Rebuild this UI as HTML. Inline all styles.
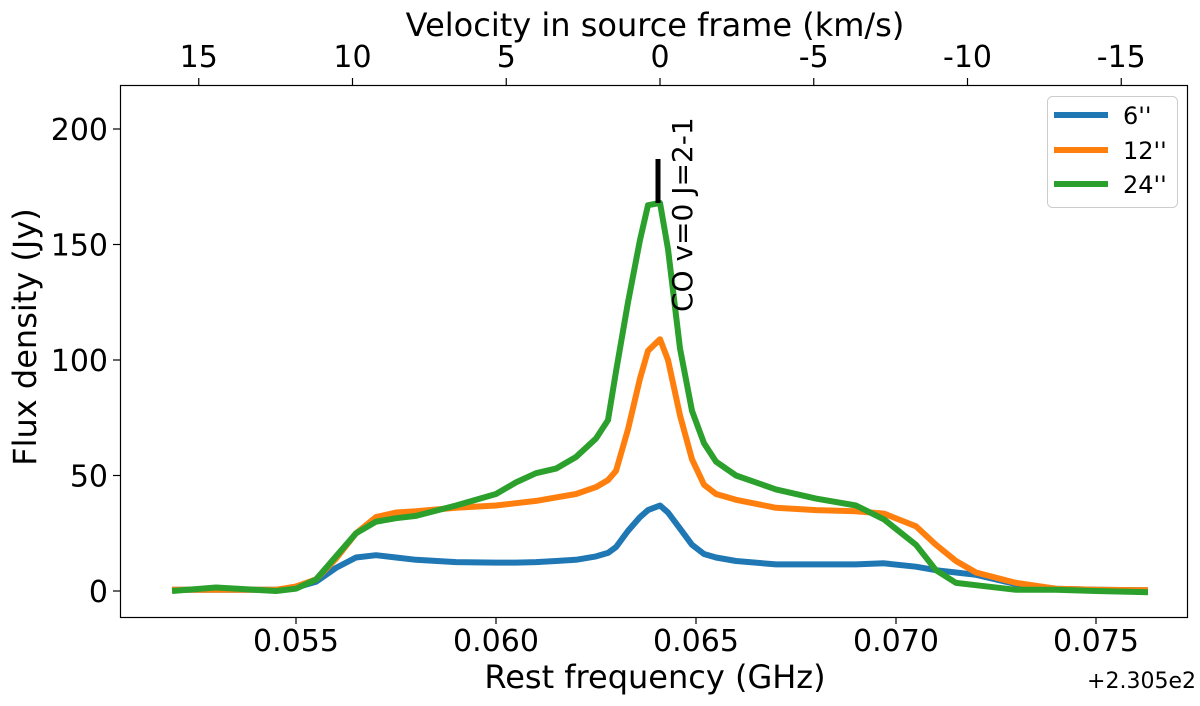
<!DOCTYPE html>
<html><head><meta charset="utf-8"><style>
html,body{margin:0;padding:0;background:#fff;}
svg{display:block;font-family:"DejaVu Sans","Liberation Sans",sans-serif;}
</style></head><body>
<svg id="chart" width="1200" height="706" viewBox="0 0 1200 706">
<rect x="0" y="0" width="1200" height="706" fill="#fff"/>
<g id="plot"></g>
<rect x="120.5" y="85.5" width="1067" height="532" fill="none" stroke="#000" stroke-width="1.2"/>
<g id="xticks"></g>
<g id="yticks"></g>
<g id="vticks"></g>
<text x="655" y="688" font-size="32" text-anchor="middle">Rest frequency (GHz)</text>
<text x="1196" y="688" font-size="22" text-anchor="end">+2.305e2</text>
<text x="655" y="36" font-size="32" text-anchor="middle">Velocity in source frame (km/s)</text>
<text transform="translate(36,337) rotate(-90)" font-size="32" text-anchor="middle">Flux density (Jy)</text>
<rect x="655.5" y="159" width="5" height="44" fill="#000"/>
<text transform="translate(692,312) rotate(-90)" font-size="28">CO v=0 J=2-1</text>
<g>
<rect x="1047.5" y="96.5" width="130" height="111" rx="5" fill="#fff" fill-opacity="0.8" stroke="#ccc" stroke-width="1"/>
<line x1="1054" y1="115" x2="1108" y2="115" stroke="#1f77b4" stroke-width="6"/>
<text x="1123" y="124" font-size="24">6''</text>
<line x1="1054" y1="150" x2="1108" y2="150" stroke="#ff7f0e" stroke-width="6"/>
<text x="1123" y="159" font-size="24">12''</text>
<line x1="1054" y1="184" x2="1108" y2="184" stroke="#2ca02c" stroke-width="6"/>
<text x="1123" y="193" font-size="24">24''</text>
</g>
</svg>
<script>
const freqs = [0.0519,0.053,0.0545,0.055,0.0555,0.056,0.0565,0.057,0.0575,0.058,0.059,0.060,0.0605,0.061,0.0615,0.062,0.0625,0.0628,0.063,0.0633,0.0636,0.0638,0.0641,0.0643,0.0646,0.0649,0.0652,0.0655,0.066,0.067,0.068,0.069,0.0697,0.0705,0.071,0.0715,0.072,0.073,0.074,0.075,0.0763];
const flux6 = [0.5,0.5,0.5,1.5,4,10,14.5,15.5,14.5,13.5,12.5,12.3,12.3,12.5,13,13.5,15,16.5,19,26,32,35,37,34,27,20,16,14.5,13,11.5,11.5,11.5,12,10.5,9,8,7,3,1,0.5,0.3];
const flux12 = [0.5,0.5,0.5,2,5,14,25,32,34,34.5,36,37,38,39,40.5,42,45,48,52,70,92,104,109,100,76,57,46,42,39.5,36,35,34.5,33.5,28,20,13,8,3.5,1,0.5,0.3];
const flux24 = [0,1.5,0,1,5,15,25,30,31.5,32.5,37,42,47,51,53,58,66,74,95,125,152,167,168,148,105,78,64,56,50,44,40,37,31,20,9,3.5,2.5,0.5,0.5,0,-0.5];
const xTickVals = [0.055,0.060,0.065,0.070,0.075];
const xTickLabels = ["0.055","0.060","0.065","0.070","0.075"];
const yTickVals = [0,50,100,150,200];
const yTickLabels = ["0","50","100","150","200"];
const vTickVals = [15,10,5,0,-5,-10,-15];
const vTickLabels = ["15","10","5","0","-5","-10","-15"];

const NS = "http://www.w3.org/2000/svg";
function xs(f){ return 296 + (f - 0.055) * 40000; }
function ys(v){ return 591 - v * 2.31; }
function vs(v){ return 660 - v * 30.75; }
function mk(tag, attrs, parent){ const e=document.createElementNS(NS,tag); for(const k in attrs) e.setAttribute(k,attrs[k]); parent.appendChild(e); return e; }

const plot = document.getElementById('plot');
function series(vals, color, name){
  const d = freqs.map((f,i)=>(i?'L':'M')+xs(f).toFixed(1)+','+ys(vals[i]).toFixed(1)).join(' ');
  const p = mk('path',{d:d,fill:'none',stroke:color,'stroke-width':6,'stroke-linejoin':'round'},plot);
  
  
}
series(flux6,'#1f77b4','series-6-arcsec');
series(flux12,'#ff7f0e','series-12-arcsec');
series(flux24,'#2ca02c','series-24-arcsec');

const xg = document.getElementById('xticks');
xTickVals.forEach((v,i)=>{
  const x = xs(v);
  const l = mk('line',{x1:x,y1:617,x2:x,y2:624,stroke:'#000','stroke-width':1.2},xg);
  
  
  const t = mk('text',{x:x,y:651,'font-size':30,'text-anchor':'middle'},xg);
  t.textContent = xTickLabels[i];
  
  
});
const yg = document.getElementById('yticks');
yTickVals.forEach((v,i)=>{
  const y = ys(v);
  const l = mk('line',{x1:113,y1:y,x2:120,y2:y,stroke:'#000','stroke-width':1.2},yg);
  
  
  const t = mk('text',{x:108,y:y+11,'font-size':30,'text-anchor':'end'},yg);
  t.textContent = yTickLabels[i];
  
  
});
const vg = document.getElementById('vticks');
vTickVals.forEach((v,i)=>{
  const x = vs(v);
  const l = mk('line',{x1:x,y1:78,x2:x,y2:85,stroke:'#000','stroke-width':1.2},vg);
  
  
  const t = mk('text',{x:x,y:67,'font-size':30,'text-anchor':'middle'},vg);
  t.textContent = vTickLabels[i];
  
  
});
</script>
</body></html>
